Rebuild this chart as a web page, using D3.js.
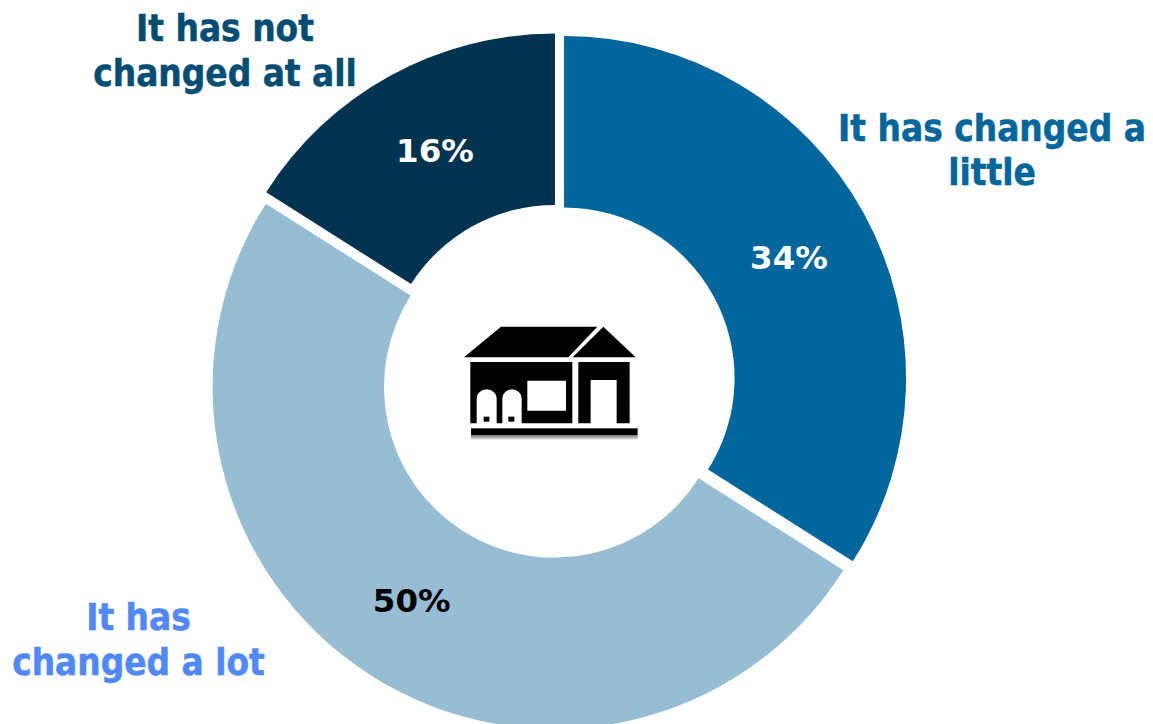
<!DOCTYPE html>
<html>
<head>
<meta charset="utf-8">
<script src="https://cdn.jsdelivr.net/npm/d3@7/dist/d3.min.js"></script>
<style>
html,body{margin:0;padding:0;background:#fff;overflow:hidden}
text{font-weight:700}
.cat{font-family:"DejaVu Sans Condensed","DejaVu Sans",sans-serif}
.val{font-family:"DejaVu Sans",sans-serif}
</style>
</head>
<body>
<svg id="chart" width="1153" height="724"></svg>
<script>
const categories = ["It has changed a little", "It has changed a lot", "It has not changed at all"];
const shares = [34, 50, 16];
const sliceColors = ["#00669b", "#96bdd3", "#00334f"];
const valueColors = ["#ffffff", "#000000", "#ffffff"];
const labelColors = ["#00669b", "#5088f8", "#004d73"];
const labelLines = [["It has changed a", "little"], ["It has", "changed a lot"], ["It has not", "changed at all"]];
const labelAnchors = [[992, 140.7], [138.5, 630], [225, 41]];
const valueAnchors = [[789, 269.3], [411.7, 612], [435, 161.5]];

const svg = d3.select("#chart");
const centre = [558.2, 381.3];
const outerRadius = 342, innerRadius = 170.5, explode = 6.7;

const pie = d3.pie().sort(null).value(d => d);
const arc = d3.arc().innerRadius(innerRadius).outerRadius(outerRadius);

// Each slice is pulled out along its own mid-angle, which opens the white gaps
const ring = svg.append("g").attr("transform", `translate(${centre})`);
ring.selectAll("path").data(pie(shares)).join("path")
  .attr("d", arc)
  .attr("fill", (d, i) => sliceColors[i])
  .attr("transform", d => {
    const mid = (d.startAngle + d.endAngle) / 2;
    return `translate(${explode * Math.sin(mid)},${-explode * Math.cos(mid)})`;
  });

// Percentage labels on the ring
svg.append("g").selectAll("text").data(shares).join("text")
  .attr("class", "val")
  .attr("x", (d, i) => valueAnchors[i][0])
  .attr("y", (d, i) => valueAnchors[i][1])
  .attr("text-anchor", "middle")
  .attr("font-size", 32.5)
  .attr("fill", (d, i) => valueColors[i])
  .text(d => d + "%");

// Category labels, two lines each
const labels = svg.append("g").selectAll("text").data(categories).join("text")
  .attr("class", "cat")
  .attr("text-anchor", "middle")
  .attr("font-size", 36.6)
  .attr("fill", (d, i) => labelColors[i])
  .attr("stroke", (d, i) => labelColors[i])
  .attr("stroke-width", 0.5)
  .attr("aria-label", d => d);
labels.selectAll("tspan").data((d, i) => labelLines[i].map((line, k) => ({line, k, i}))).join("tspan")
  .attr("x", d => labelAnchors[d.i][0])
  .attr("y", d => labelAnchors[d.i][1] + d.k * 44.7)
  .text(d => d.line);

// House pictogram in the hole of the ring
const defs = svg.append("defs");
defs.append("filter").attr("id", "soft").append("feGaussianBlur").attr("stdDeviation", 2.2);
const fade = defs.append("linearGradient").attr("id", "groundFade").attr("x1", 0).attr("y1", 0).attr("x2", 0).attr("y2", 1);
fade.append("stop").attr("offset", 0).attr("stop-color", "#777");
fade.append("stop").attr("offset", 1).attr("stop-color", "#e4e4e4");
const house = svg.append("g")
  .attr("transform", "translate(440,300) scale(0.3333)")
  .attr("filter", "url(#soft)");
house.append("path").attr("d", "M72,172 L183,80 L472,80 L385,172 Z M398,172 L490,80 L587,172 Z");
house.append("path").attr("fill-rule", "evenodd").attr("d",
  "M91,186 H397 V370 H91 Z " +
  "M262,242 H378 V332 H262 Z " +
  "M110,370 V295 A30,27 0 0 1 170,295 V370 Z " +
  "M187,370 V295 A29,27 0 0 1 245,295 V370 Z " +
  "M415,186 H569 V370 H415 Z M452,240 H530 V370 H452 Z");
house.append("rect").attr("x", 131).attr("y", 350).attr("width", 17).attr("height", 15);
house.append("rect").attr("x", 205).attr("y", 350).attr("width", 18).attr("height", 15);
house.append("rect").attr("x", 93).attr("y", 385).attr("width", 500).attr("height", 20);
house.append("rect").attr("x", 93).attr("y", 405).attr("width", 500).attr("height", 14).attr("fill", "url(#groundFade)");
</script>
</body>
</html>
